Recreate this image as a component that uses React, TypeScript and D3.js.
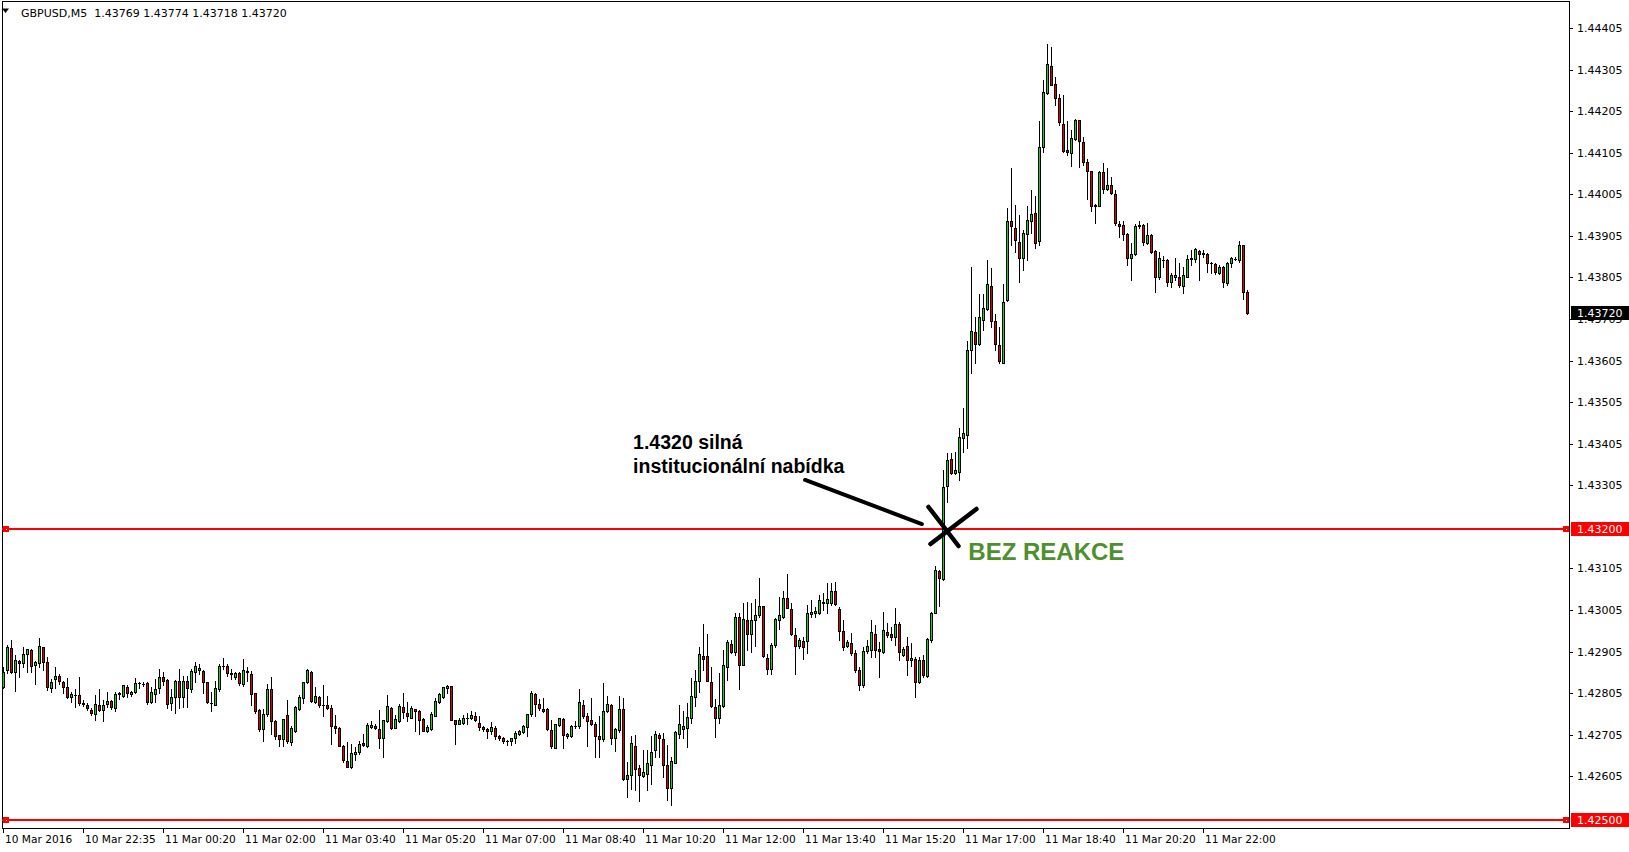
import React, { useRef, useEffect } from "react";
import * as d3 from "d3";

// open, high, low, close
type Bar = [number, number, number, number];

// 10 Mar evening (bars 0-79)
const barsEvening: Bar[] = [
  [1.42821, 1.42869, 1.42817, 1.42857], [1.42861, 1.42921, 1.42853, 1.42915], [1.42913, 1.42933, 1.42853, 1.42857], [1.42857, 1.42897, 1.42811, 1.42885],
  [1.42883, 1.42885, 1.42845, 1.42877], [1.42877, 1.42915, 1.42869, 1.42899], [1.42899, 1.42911, 1.42857, 1.42911], [1.42909, 1.42911, 1.42857, 1.42871],
  [1.42873, 1.42883, 1.42827, 1.42879], [1.42877, 1.42937, 1.42869, 1.42919], [1.42915, 1.42917, 1.42861, 1.42879], [1.4288, 1.42893, 1.42813, 1.42819],
  [1.42817, 1.42839, 1.42807, 1.42832], [1.4284, 1.42869, 1.42817, 1.42847], [1.42847, 1.42851, 1.42827, 1.42835], [1.42832, 1.42835, 1.42805, 1.42819],
  [1.42819, 1.42841, 1.42793, 1.42797], [1.42797, 1.42809, 1.42785, 1.42803], [1.428, 1.42815, 1.42773, 1.428], [1.428, 1.42845, 1.42777, 1.42781],
  [1.42781, 1.42789, 1.42775, 1.4278], [1.42776, 1.42781, 1.42765, 1.42769], [1.42765, 1.42769, 1.42753, 1.42757], [1.42755, 1.428, 1.42741, 1.42778],
  [1.42776, 1.42815, 1.42761, 1.42765], [1.42765, 1.42789, 1.42737, 1.42776], [1.42779, 1.42807, 1.42773, 1.42787], [1.42787, 1.42789, 1.42767, 1.42771],
  [1.42769, 1.42807, 1.42763, 1.42803], [1.42805, 1.42807, 1.42792, 1.42803], [1.42799, 1.42824, 1.42795, 1.42824], [1.42821, 1.42824, 1.42797, 1.42805],
  [1.42803, 1.42811, 1.42799, 1.42809], [1.42807, 1.42841, 1.42805, 1.42829], [1.42829, 1.42833, 1.42817, 1.42829], [1.42828, 1.42831, 1.42823, 1.42828],
  [1.42829, 1.42831, 1.4278, 1.42784], [1.42784, 1.42821, 1.42781, 1.42808], [1.42803, 1.42839, 1.42783, 1.42815], [1.42817, 1.42863, 1.42805, 1.42845],
  [1.42845, 1.42857, 1.42825, 1.42835], [1.42837, 1.42839, 1.4277, 1.42778], [1.42781, 1.42814, 1.42765, 1.42797], [1.42797, 1.42837, 1.42757, 1.42835],
  [1.42834, 1.42863, 1.42769, 1.42795], [1.42795, 1.42847, 1.42773, 1.42834], [1.42834, 1.42847, 1.42773, 1.42817], [1.42814, 1.42863, 1.42809, 1.42858],
  [1.42857, 1.42879, 1.42833, 1.42871], [1.42861, 1.42875, 1.42851, 1.42865], [1.42858, 1.42861, 1.42805, 1.42833], [1.42831, 1.42833, 1.42781, 1.42785],
  [1.42782, 1.42809, 1.42761, 1.42782], [1.42776, 1.42835, 1.42776, 1.42817], [1.42816, 1.42875, 1.42811, 1.42871], [1.42871, 1.42889, 1.42864, 1.42871],
  [1.42871, 1.42875, 1.42847, 1.42853], [1.42854, 1.42864, 1.42839, 1.4285], [1.42843, 1.42855, 1.42839, 1.42853], [1.42853, 1.42855, 1.42825, 1.42829],
  [1.42827, 1.42887, 1.42823, 1.42861], [1.42858, 1.42869, 1.42835, 1.42855], [1.42851, 1.42859, 1.42776, 1.42802], [1.42805, 1.42806, 1.42758, 1.42763],
  [1.42765, 1.42766, 1.42715, 1.42718], [1.42718, 1.42766, 1.42691, 1.42755], [1.42755, 1.42827, 1.4275, 1.42814], [1.42814, 1.42843, 1.42707, 1.42737],
  [1.42737, 1.42741, 1.42694, 1.42703], [1.42704, 1.42705, 1.42678, 1.42694], [1.42694, 1.42744, 1.42678, 1.42742], [1.42752, 1.42789, 1.42685, 1.42689],
  [1.42688, 1.42725, 1.4268, 1.42721], [1.42713, 1.42774, 1.42712, 1.42771], [1.42768, 1.42801, 1.42765, 1.42797], [1.42793, 1.42833, 1.42781, 1.42831],
  [1.42831, 1.42863, 1.42829, 1.42861], [1.42855, 1.42859, 1.42784, 1.42787], [1.42785, 1.42821, 1.42782, 1.42799], [1.42797, 1.42798, 1.42773, 1.42776],
];

// night (bars 80-159)
const barsNight: Bar[] = [
  [1.42776, 1.42825, 1.4275, 1.42776], [1.42777, 1.42798, 1.42767, 1.4277], [1.4277, 1.42777, 1.42683, 1.42725], [1.42725, 1.42753, 1.42709, 1.42721],
  [1.42722, 1.42724, 1.42679, 1.42679], [1.42678, 1.4268, 1.4264, 1.42644], [1.42642, 1.42688, 1.42628, 1.42628], [1.42628, 1.42684, 1.42624, 1.4266],
  [1.42658, 1.42676, 1.42644, 1.42664], [1.42663, 1.4269, 1.42658, 1.42684], [1.42685, 1.42706, 1.42679, 1.4268], [1.42679, 1.42733, 1.42676, 1.42729],
  [1.42724, 1.42738, 1.42722, 1.42729], [1.42727, 1.4273, 1.42719, 1.42722], [1.42719, 1.42765, 1.42672, 1.42697], [1.42697, 1.4274, 1.42652, 1.4274],
  [1.42737, 1.42801, 1.42735, 1.42774], [1.4277, 1.42772, 1.42719, 1.42722], [1.42722, 1.42753, 1.42721, 1.42743], [1.42737, 1.42778, 1.42735, 1.42774],
  [1.42771, 1.42806, 1.42745, 1.42759], [1.42757, 1.42783, 1.42737, 1.42751], [1.42746, 1.42775, 1.42745, 1.42769], [1.42766, 1.42766, 1.42713, 1.42761],
  [1.42761, 1.42765, 1.42706, 1.42741], [1.42742, 1.42745, 1.42713, 1.42714], [1.42713, 1.42729, 1.42711, 1.42724], [1.42719, 1.42759, 1.42717, 1.42754],
  [1.42751, 1.42793, 1.42749, 1.42786], [1.42783, 1.42805, 1.42781, 1.42802], [1.42797, 1.42821, 1.42793, 1.42819], [1.42817, 1.42825, 1.42805, 1.42822],
  [1.42822, 1.42823, 1.4274, 1.4274], [1.4274, 1.42741, 1.42683, 1.42732], [1.42732, 1.42745, 1.4273, 1.4274], [1.42733, 1.42753, 1.4273, 1.42745],
  [1.42745, 1.42757, 1.4273, 1.42745], [1.42745, 1.42761, 1.42743, 1.42752], [1.4275, 1.42759, 1.42737, 1.4274], [1.42733, 1.42749, 1.42717, 1.42724],
  [1.42724, 1.42726, 1.42713, 1.42718], [1.42719, 1.42721, 1.42697, 1.42713], [1.42713, 1.42735, 1.42708, 1.42723], [1.42722, 1.42725, 1.42694, 1.42701],
  [1.42703, 1.42705, 1.42693, 1.42697], [1.42698, 1.427, 1.42686, 1.4269], [1.4269, 1.42692, 1.42681, 1.42689], [1.42689, 1.42698, 1.42681, 1.42697],
  [1.42697, 1.42714, 1.42685, 1.42709], [1.42707, 1.42717, 1.42705, 1.42714], [1.42711, 1.42729, 1.42709, 1.42726], [1.42723, 1.42756, 1.42703, 1.42754],
  [1.42754, 1.42811, 1.42751, 1.42805], [1.42803, 1.42805, 1.42749, 1.42778], [1.42779, 1.42791, 1.42765, 1.42769], [1.42766, 1.42793, 1.42759, 1.42761],
  [1.42766, 1.42769, 1.42717, 1.42718], [1.42717, 1.42741, 1.42673, 1.42677], [1.42673, 1.42732, 1.42673, 1.4273], [1.42729, 1.42746, 1.42725, 1.42745],
  [1.42743, 1.42746, 1.42674, 1.42705], [1.42701, 1.4271, 1.42698, 1.42707], [1.42701, 1.42729, 1.427, 1.42726], [1.42725, 1.42738, 1.42721, 1.42725],
  [1.42725, 1.42814, 1.42722, 1.42783], [1.42777, 1.42789, 1.42746, 1.42749], [1.42751, 1.42757, 1.42679, 1.42739], [1.4274, 1.42793, 1.42729, 1.42731],
  [1.4273, 1.42735, 1.42652, 1.42703], [1.42701, 1.42749, 1.42652, 1.42694], [1.42694, 1.42829, 1.42689, 1.42762], [1.42762, 1.42799, 1.42759, 1.42778],
  [1.42777, 1.42778, 1.42683, 1.42698], [1.42697, 1.42721, 1.42666, 1.42718], [1.42716, 1.42798, 1.42711, 1.42766], [1.42766, 1.42793, 1.42596, 1.42599],
  [1.42599, 1.42639, 1.42556, 1.42608], [1.42608, 1.42702, 1.42575, 1.42685], [1.42678, 1.42705, 1.42572, 1.42623], [1.42624, 1.42632, 1.42546, 1.42608],
];

// morning (bars 160-239)
const barsMorning: Bar[] = [
  [1.42606, 1.42668, 1.42604, 1.42615], [1.42611, 1.42668, 1.42571, 1.42636], [1.42632, 1.42702, 1.42586, 1.42664], [1.42668, 1.42713, 1.42652, 1.42706],
  [1.42704, 1.4271, 1.42652, 1.42697], [1.42694, 1.4271, 1.42603, 1.42632], [1.42632, 1.42681, 1.42548, 1.42576], [1.42576, 1.42652, 1.42535, 1.42641],
  [1.42638, 1.42713, 1.42636, 1.42711], [1.42707, 1.42777, 1.42697, 1.4273], [1.4272, 1.42761, 1.42698, 1.42725], [1.42721, 1.42781, 1.42675, 1.42747],
  [1.42745, 1.42841, 1.42734, 1.42798], [1.42795, 1.42861, 1.42775, 1.42834], [1.42834, 1.42915, 1.42809, 1.42899], [1.42894, 1.42972, 1.42861, 1.42887],
  [1.42894, 1.42947, 1.42834, 1.42834], [1.42831, 1.42869, 1.42773, 1.42775], [1.42772, 1.4279, 1.42699, 1.42745], [1.42745, 1.42853, 1.42734, 1.42776],
  [1.42774, 1.42909, 1.42773, 1.42872], [1.42867, 1.42932, 1.42837, 1.42928], [1.42924, 1.42933, 1.42901, 1.42903], [1.42904, 1.42999, 1.42897, 1.42988],
  [1.42988, 1.42997, 1.42814, 1.42874], [1.42874, 1.43023, 1.42874, 1.42983], [1.4298, 1.43025, 1.42909, 1.42947], [1.42947, 1.43021, 1.42903, 1.4298],
  [1.4298, 1.43031, 1.42919, 1.42992], [1.42994, 1.43082, 1.42989, 1.43014], [1.43014, 1.43015, 1.42893, 1.42895], [1.42889, 1.42899, 1.42851, 1.42863],
  [1.42863, 1.42925, 1.42851, 1.4292], [1.4292, 1.42985, 1.42917, 1.42983], [1.4298, 1.43036, 1.42959, 1.42992], [1.42989, 1.43052, 1.42986, 1.43033],
  [1.43033, 1.43092, 1.43009, 1.43011], [1.43007, 1.43021, 1.42945, 1.42947], [1.42944, 1.42961, 1.42851, 1.42919], [1.42919, 1.42937, 1.42913, 1.42932],
  [1.4293, 1.42941, 1.42887, 1.42915], [1.42931, 1.43017, 1.42901, 1.42999], [1.42995, 1.43029, 1.42989, 1.43001], [1.42999, 1.43013, 1.42989, 1.43003],
  [1.42997, 1.43041, 1.42996, 1.43029], [1.43025, 1.43045, 1.43005, 1.43021], [1.43023, 1.43069, 1.42997, 1.43032], [1.43023, 1.43069, 1.43017, 1.43052],
  [1.4305, 1.43073, 1.43017, 1.43019], [1.43007, 1.43013, 1.42933, 1.42955], [1.42955, 1.42981, 1.42909, 1.42917], [1.42919, 1.42933, 1.42917, 1.42927],
  [1.42925, 1.42949, 1.42897, 1.42901], [1.42901, 1.42909, 1.42857, 1.42861], [1.42862, 1.42869, 1.42813, 1.42825], [1.42825, 1.42917, 1.42821, 1.42907],
  [1.42907, 1.42933, 1.42901, 1.42919], [1.42909, 1.42981, 1.42893, 1.42952], [1.42948, 1.42969, 1.42891, 1.42909], [1.42911, 1.42929, 1.42845, 1.42907],
  [1.42905, 1.43001, 1.42901, 1.42957], [1.42953, 1.42973, 1.42941, 1.42945], [1.42947, 1.42964, 1.42933, 1.4294], [1.42941, 1.43009, 1.42921, 1.42972],
  [1.42972, 1.42977, 1.42885, 1.42905], [1.42897, 1.42917, 1.42895, 1.42911], [1.42919, 1.42941, 1.42849, 1.42885], [1.42885, 1.42925, 1.4287, 1.42889],
  [1.42887, 1.42891, 1.42797, 1.42833], [1.42833, 1.42891, 1.42829, 1.42885], [1.42885, 1.42897, 1.42845, 1.42849], [1.42847, 1.42937, 1.42845, 1.42935],
  [1.42933, 1.43001, 1.42929, 1.42999], [1.42999, 1.43111, 1.42997, 1.43102], [1.43099, 1.43102, 1.43015, 1.43081], [1.43079, 1.43342, 1.43077, 1.43302],
  [1.43304, 1.43382, 1.43266, 1.43366], [1.43368, 1.43382, 1.43333, 1.43334], [1.43334, 1.43386, 1.43333, 1.43342], [1.43338, 1.43442, 1.43318, 1.43422],
];

// afternoon / evening (bars 240-311)
const barsAfternoon: Bar[] = [
  [1.4342, 1.43491, 1.43386, 1.4343], [1.43426, 1.43653, 1.43394, 1.43631], [1.43631, 1.43831, 1.43575, 1.43677], [1.43675, 1.43709, 1.43599, 1.43644],
  [1.43644, 1.43765, 1.43643, 1.43709], [1.43703, 1.43765, 1.43679, 1.43731], [1.43729, 1.43847, 1.43727, 1.43789], [1.43784, 1.43827, 1.43685, 1.43701],
  [1.43701, 1.43717, 1.43631, 1.43644], [1.43643, 1.43685, 1.43599, 1.43603], [1.436, 1.43789, 1.43599, 1.43747], [1.43751, 1.43972, 1.43749, 1.43941],
  [1.43941, 1.44068, 1.43882, 1.43928], [1.43925, 1.4398, 1.43867, 1.43894], [1.4389, 1.43956, 1.43795, 1.43853], [1.43853, 1.4392, 1.43823, 1.43912],
  [1.43909, 1.43976, 1.43847, 1.43944], [1.43942, 1.44016, 1.43912, 1.43957], [1.4396, 1.44001, 1.43877, 1.43889], [1.43892, 1.44182, 1.43883, 1.44118],
  [1.44118, 1.4428, 1.44108, 1.44251], [1.44248, 1.44366, 1.44246, 1.44318], [1.44314, 1.44359, 1.44268, 1.44268], [1.4427, 1.44287, 1.44219, 1.44236],
  [1.44236, 1.44246, 1.44172, 1.44179], [1.44174, 1.44243, 1.44108, 1.4411], [1.44112, 1.44182, 1.441, 1.44106], [1.44104, 1.4416, 1.44074, 1.4414],
  [1.44139, 1.44187, 1.44136, 1.44184], [1.44184, 1.44184, 1.4407, 1.44134], [1.44131, 1.44142, 1.44076, 1.44082], [1.44082, 1.4409, 1.43993, 1.4406],
  [1.4406, 1.4406, 1.43965, 1.43976], [1.4398, 1.43981, 1.43936, 1.43978], [1.43978, 1.4406, 1.43976, 1.44059], [1.44058, 1.4408, 1.44008, 1.44018],
  [1.44018, 1.44068, 1.44015, 1.44028], [1.44028, 1.44046, 1.44006, 1.44008], [1.44005, 1.44016, 1.43932, 1.43937], [1.43934, 1.4394, 1.43902, 1.43928],
  [1.43931, 1.43941, 1.43896, 1.43909], [1.43909, 1.43912, 1.43835, 1.43851], [1.43851, 1.43887, 1.43798, 1.43862], [1.43861, 1.43934, 1.43859, 1.43929],
  [1.43929, 1.43941, 1.43924, 1.43932], [1.43932, 1.43934, 1.43883, 1.4389], [1.43889, 1.43937, 1.43886, 1.43908], [1.43908, 1.4391, 1.43865, 1.43867],
  [1.43869, 1.43871, 1.43769, 1.43807], [1.43805, 1.43867, 1.43802, 1.43851], [1.43847, 1.43857, 1.43831, 1.43847], [1.43847, 1.43849, 1.43785, 1.43795],
  [1.43794, 1.43815, 1.43782, 1.4381], [1.43806, 1.43851, 1.43799, 1.4381], [1.43806, 1.43839, 1.43783, 1.43786], [1.43784, 1.43831, 1.43767, 1.4381],
  [1.43807, 1.43859, 1.43806, 1.43849], [1.43849, 1.4387, 1.43834, 1.43851], [1.43849, 1.43875, 1.43843, 1.43873], [1.43869, 1.43871, 1.43798, 1.43861],
  [1.43865, 1.43871, 1.43854, 1.43862], [1.43862, 1.43863, 1.43819, 1.43839], [1.43839, 1.43843, 1.43817, 1.43839], [1.43837, 1.43839, 1.43814, 1.43818],
  [1.43817, 1.43835, 1.43814, 1.4383], [1.4383, 1.43833, 1.43782, 1.43793], [1.43791, 1.43843, 1.43787, 1.43839], [1.43839, 1.43854, 1.43831, 1.43851],
  [1.43849, 1.43854, 1.43846, 1.43849], [1.43847, 1.43892, 1.43843, 1.43883], [1.43883, 1.43883, 1.43753, 1.43771], [1.43769, 1.43774, 1.43718, 1.4372],
];

const timeLabels = [
  "10 Mar 2016", "10 Mar 22:35", "11 Mar 00:20", "11 Mar 02:00", "11 Mar 03:40", "11 Mar 05:20",
  "11 Mar 07:00", "11 Mar 08:40", "11 Mar 10:20", "11 Mar 12:00", "11 Mar 13:40", "11 Mar 15:20",
  "11 Mar 17:00", "11 Mar 18:40", "11 Mar 20:20", "11 Mar 22:00",
];
const barsPerLabel = 20;

const priceTicks = [
  1.42605, 1.42705, 1.42805, 1.42905, 1.43005, 1.43105, 1.43305, 1.43405, 1.43505,
  1.43605, 1.43705, 1.43805, 1.43905, 1.44005, 1.44105, 1.44205, 1.44305, 1.44405,
];
const levels = [1.432, 1.425];
const lastPrice = 1.4372;
const headerText = "GBPUSD,M5  1.43769 1.43774 1.43718 1.43720";
const noteLines = ["1.4320 silná", "institucionální nabídka"];
const noteAt = { bar: 157.4, price: 1.43392 };
const calloutFrom = { bar: 200.4, price: 1.43318 };
const calloutTo = { bar: 229.6, price: 1.43212 };
const crossAt = { bar: 235.5, price: 1.432 };
const verdict = { text: "BEZ REAKCE", bar: 241.2, price: 1.43126 };

const GREEN = "#1ccf1c";
const RED = "#e00000";

const App: React.FC = () => {
  const svgRef = useRef<SVGSVGElement>(null);

  useEffect(() => {
    if (!svgRef.current) return;
    document.body.style.margin = "0";
    document.body.style.overflow = "hidden";

    const svg = d3.select(svgRef.current);
    svg.selectAll("*").remove();

    const width = 1629;
    const height = 852;
    const plot = { left: 2, right: 1569, top: 1, bottom: 828 };

    const bars = [...barsEvening, ...barsNight, ...barsMorning, ...barsAfternoon].map(
      (b, i) => ({ i, o: b[0], h: b[1], l: b[2], c: b[3] }),
    );

    const x = d3.scaleLinear().domain([0, 1]).range([3.5, 7.5]);
    const y = d3.scaleLinear().domain([1.425, 1.432]).range([820, 529]);
    const py = (p: number) => Math.round(y(p));

    svg
      .attr("width", width)
      .attr("height", height)
      .style("display", "block")
      .style("background", "#fff");

    // Frame
    svg
      .append("rect")
      .attr("x", plot.left + 0.5)
      .attr("y", plot.top + 0.5)
      .attr("width", plot.right - plot.left)
      .attr("height", plot.bottom - plot.top)
      .attr("fill", "none")
      .attr("stroke", "#000")
      .attr("shape-rendering", "crispEdges");

    // Header
    svg
      .append("path")
      .attr("d", "M2,8.5 L9,8.5 L5.5,13 Z")
      .attr("fill", "#000");
    svg
      .append("text")
      .attr("x", 21)
      .attr("y", 17)
      .attr("font-family", "DejaVu Sans, sans-serif")
      .attr("font-size", 11)
      .style("white-space", "pre")
      .text(headerText);

    // Horizontal levels
    const lv = svg.append("g").attr("shape-rendering", "crispEdges");
    levels.forEach((p) => {
      const yy = py(p);
      lv.append("rect")
        .attr("x", plot.left)
        .attr("y", yy - 1)
        .attr("width", plot.right - plot.left)
        .attr("height", 2)
        .attr("fill", "#ff0000");
      [plot.left + 1, plot.right - 6].forEach((sx) => {
        lv.append("rect")
          .attr("x", sx)
          .attr("y", yy - 3)
          .attr("width", 6)
          .attr("height", 6)
          .attr("fill", "#ff0000");
        lv.append("rect")
          .attr("x", sx + 2.5)
          .attr("y", yy - 0.5)
          .attr("width", 1)
          .attr("height", 1)
          .attr("fill", "#fff");
      });
    });

    // Candles
    const g = svg.append("g").attr("shape-rendering", "crispEdges");
    g.selectAll("line.wick")
      .data(bars)
      .join("line")
      .attr("class", "wick")
      .attr("x1", (d) => x(d.i))
      .attr("x2", (d) => x(d.i))
      .attr("y1", (d) => py(d.h))
      .attr("y2", (d) => py(d.l) + 1)
      .attr("stroke", "#000");

    const bodyTop = (d: { o: number; c: number }) => py(Math.max(d.o, d.c));
    const bodyBot = (d: { o: number; c: number }) => py(Math.min(d.o, d.c));

    g.selectAll("rect.body")
      .data(bars.filter((d) => bodyBot(d) - bodyTop(d) >= 1))
      .join("rect")
      .attr("class", "body")
      .attr("x", (d) => x(d.i) - 1)
      .attr("y", (d) => bodyTop(d) + 0.5)
      .attr("width", 2)
      .attr("height", (d) => bodyBot(d) - bodyTop(d))
      .attr("fill", (d) => (d.c > d.o ? GREEN : RED))
      .attr("stroke", "#000");

    g.selectAll("line.doji")
      .data(bars.filter((d) => bodyBot(d) - bodyTop(d) < 1))
      .join("line")
      .attr("class", "doji")
      .attr("x1", (d) => x(d.i) - 1.5)
      .attr("x2", (d) => x(d.i) + 1.5)
      .attr("y1", (d) => bodyTop(d) + 0.5)
      .attr("y2", (d) => bodyTop(d) + 0.5)
      .attr("stroke", "#000");

    // Price axis
    const ax = svg.append("g").attr("font-family", "DejaVu Sans, sans-serif").attr("font-size", 11);
    priceTicks.forEach((p) => {
      const yy = py(p);
      ax.append("line")
        .attr("x1", plot.right)
        .attr("x2", plot.right + 4)
        .attr("y1", yy + 0.5)
        .attr("y2", yy + 0.5)
        .attr("stroke", "#000")
        .attr("shape-rendering", "crispEdges");
      ax.append("text")
        .attr("x", plot.right + 8)
        .attr("y", yy)
        .attr("dy", "0.36em")
        .text(d3.format(".5f")(p));
    });

    const boxLabel = (p: number, fill: string) => {
      const yy = py(p);
      ax.append("rect")
        .attr("x", plot.right + 2)
        .attr("y", yy - 7)
        .attr("width", width - plot.right - 2)
        .attr("height", 14)
        .attr("fill", fill);
      ax.append("text")
        .attr("x", plot.right + 8)
        .attr("y", yy)
        .attr("dy", "0.36em")
        .attr("fill", "#fff")
        .text(d3.format(".5f")(p));
    };
    levels.forEach((p) => boxLabel(p, "#ff0000"));
    boxLabel(lastPrice, "#000");

    // Time axis
    const tx = svg.append("g").attr("font-family", "DejaVu Sans, sans-serif").attr("font-size", 10.6);
    timeLabels.forEach((t, k) => {
      const xx = x(k * barsPerLabel) - 0.5;
      tx.append("line")
        .attr("x1", xx + 0.5)
        .attr("x2", xx + 0.5)
        .attr("y1", plot.bottom)
        .attr("y2", plot.bottom + 5)
        .attr("stroke", "#000")
        .attr("shape-rendering", "crispEdges");
      tx.append("text")
        .attr("x", xx + 2)
        .attr("y", 842.5)
        .text(t);
    });

    // Annotation
    const note = svg
      .append("text")
      .attr("font-family", "Liberation Sans, Arial, sans-serif")
      .attr("font-weight", "bold")
      .attr("font-size", 19.5)
      .attr("fill", "#000");
    noteLines.forEach((line, k) => {
      note
        .append("tspan")
        .attr("x", x(noteAt.bar))
        .attr("y", y(noteAt.price) + k * 24)
        .text(line);
    });

    svg
      .append("line")
      .attr("x1", x(calloutFrom.bar))
      .attr("y1", y(calloutFrom.price))
      .attr("x2", x(calloutTo.bar))
      .attr("y2", y(calloutTo.price))
      .attr("stroke", "#000")
      .attr("stroke-width", 4)
      .attr("stroke-linecap", "round");

    const cx = x(crossAt.bar);
    const cy = y(crossAt.price);
    const cross = svg
      .append("g")
      .attr("stroke", "#000")
      .attr("stroke-width", 4.5)
      .attr("stroke-linecap", "round");
    cross.append("line").attr("x1", cx - 17).attr("y1", cy - 22).attr("x2", cx + 13).attr("y2", cy + 17);
    cross.append("line").attr("x1", cx - 15).attr("y1", cy + 15).attr("x2", cx + 31).attr("y2", cy - 20);

    svg
      .append("text")
      .attr("x", x(verdict.bar))
      .attr("y", y(verdict.price))
      .attr("font-family", "Liberation Sans, Arial, sans-serif")
      .attr("font-weight", "bold")
      .attr("font-size", 24)
      .attr("fill", "#4f8f2f")
      .text(verdict.text);
  }, []);

  return <svg ref={svgRef}></svg>;
};

export default App;
